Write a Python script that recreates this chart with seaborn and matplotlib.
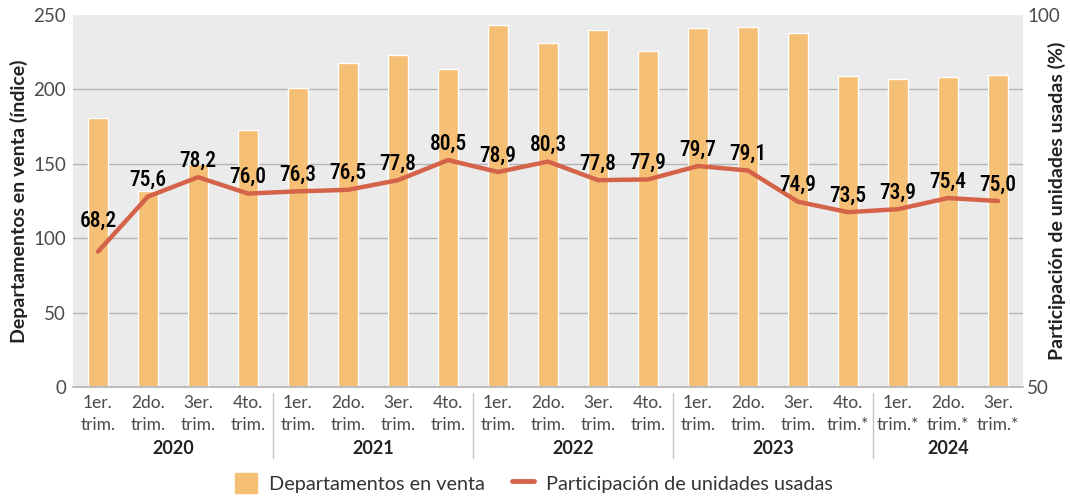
import matplotlib
matplotlib.use("Agg")
import matplotlib.pyplot as plt
import matplotlib.transforms as mtransforms
from matplotlib import font_manager
from matplotlib.font_manager import FontProperties
from matplotlib.lines import Line2D
from matplotlib.patches import Patch
import seaborn as sns
import pandas as pd

# datos
trimestres = ["1er.\ntrim.", "2do.\ntrim.", "3er.\ntrim.", "4to.\ntrim."] * 3 + \
             ["1er.\ntrim.", "2do.\ntrim.", "3er.\ntrim.", "4to.\ntrim.*",
              "1er.\ntrim.*", "2do.\ntrim.*", "3er.\ntrim.*"]
anios = ["2020", "2021", "2022", "2023", "2024"]
anios_n = [4, 4, 4, 4, 3]
departamentos = [181, 132, 150, 173, 201, 218, 223, 214, 243, 231, 240, 226,
                 241, 242, 238, 209, 207, 208, 210]
participacion = [68.2, 75.6, 78.2, 76.0, 76.3, 76.5, 77.8, 80.5, 78.9, 80.3,
                 77.8, 77.9, 79.7, 79.1, 74.9, 73.5, 73.9, 75.4, 75.0]

COLOR_BAR = "#f5bf75"
COLOR_LINE = "#d5634a"
GRIS = "#4a4a4a"


def fuente_estrecha(size):
    # busca una fuente condensada (no cursiva) para las etiquetas de valores
    nombres = ["Roboto Condensed", "Liberation Sans Narrow", "Open Sans Condensed"]
    candidatas = [f for f in font_manager.fontManager.ttflist
                  if f.name in nombres and f.style == "normal"]
    if candidatas:
        candidatas.sort(key=lambda f: (nombres.index(f.name),
                                       abs(int(f.weight) - 500) if str(f.weight).isdigit() else 300))
        return FontProperties(fname=candidatas[0].fname, size=size)
    for f in font_manager.fontManager.ttflist:
        if "DejaVuSansCondensed-Bold.ttf" in f.fname:
            return FontProperties(fname=f.fname, size=size)
    return FontProperties(family="DejaVu Sans", stretch="condensed", size=size)


sns.set_theme(style="white")
plt.rcParams["font.family"] = ["Lato", "DejaVu Sans"]

df = pd.DataFrame({
    "pos": list(range(len(departamentos))),
    "dep": departamentos,
    "part": participacion,
})

fig = plt.figure(figsize=(10.7, 4.97), dpi=100)
ax = fig.add_axes([73 / 1070, 1 - 387 / 497, 950 / 1070, 372 / 497])
ax.set_facecolor("#ebebeb")

sns.barplot(data=df, x="pos", y="dep", color=COLOR_BAR, width=0.4,
            saturation=1, ax=ax, zorder=2)
ax.set_ylim(0, 250)
ax.set_xlim(-0.5, len(departamentos) - 0.5)
ax.set_yticks([0, 50, 100, 150, 200, 250])
ax.yaxis.grid(True, color="#b5b5b5", linewidth=1, zorder=0)
ax.yaxis.get_gridlines()[-1].set_visible(False)
ax.set_axisbelow(True)
for s in ["left", "right", "top"]:
    ax.spines[s].set_visible(False)
ax.spines["bottom"].set_color("#bdbdbd")
ax.spines["bottom"].set_linewidth(1.5)
ax.tick_params(axis="y", length=0, labelsize=13.5, labelcolor=GRIS, pad=5)
ax.tick_params(axis="x", length=0, labelsize=12.5, labelcolor=GRIS, pad=6)
ax.set_xticks(range(len(trimestres)))
ax.set_xticklabels(trimestres, linespacing=1.45)
ax.set_xlabel("")
ax.set_ylabel("Departamentos en venta (índice)", fontsize=14,
              fontweight="bold", color="#222222", labelpad=4)

ax2 = ax.twinx()
sns.lineplot(data=df, x="pos", y="part", color=COLOR_LINE, linewidth=3.2,
             ax=ax2, zorder=4)
ax2.set_ylim(50, 100)
ax2.set_yticks([50, 100])
ax2.tick_params(axis="y", length=0, labelsize=13.5, labelcolor=GRIS, pad=3)
for s in ["left", "right", "top", "bottom"]:
    ax2.spines[s].set_visible(False)
ax2.set_xlabel("")
ax2.set_ylabel("Participación de unidades usadas (%)", fontsize=14,
               fontweight="bold", color="#222222", labelpad=-9)

# etiquetas de valores
fp = fuente_estrecha(15.5)
for i, v in enumerate(participacion):
    dy = 14 if i == 0 else 4
    ax2.annotate(f"{v:.1f}".replace(".", ","), (i, v), xytext=(0, dy),
                 textcoords="offset points", ha="center", va="bottom",
                 fontproperties=fp, color="black", zorder=5)

# años y separadores
trans = mtransforms.blended_transform_factory(ax.transData, ax.transAxes)
inicio = 0
for anio, n in zip(anios, anios_n):
    centro = inicio + (n - 1) / 2
    ax.text(centro, -0.165, anio, transform=trans, ha="center", va="center",
            fontsize=13, fontweight="bold", color="#222222")
    if inicio > 0:
        ax.plot([inicio - 0.5, inicio - 0.5], [-0.015, -0.19], transform=trans,
                color="#c4c4c4", linewidth=1, clip_on=False)
    inicio += n

handles = [Patch(facecolor=COLOR_BAR, edgecolor=COLOR_BAR),
           Line2D([0], [0], color=COLOR_LINE, linewidth=3.5)]
fig.legend(handles, ["Departamentos en venta", "Participación de unidades usadas"],
           loc="center", bbox_to_anchor=(0.499, 0.028), ncol=2, frameon=False,
           fontsize=14.3, handlelength=1.1, handleheight=1.2, columnspacing=1.4,
           handletextpad=0.6, labelcolor="#333333")

fig.savefig("out.png", dpi=100)
